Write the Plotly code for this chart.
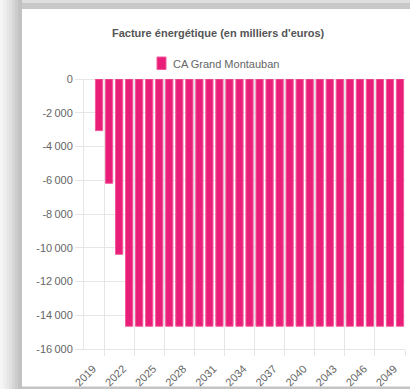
import plotly.graph_objects as go

# ---- data ----
years = [2019, 2020, 2021, 2022, 2023, 2024, 2025, 2026, 2027, 2028, 2029,
         2030, 2031, 2032, 2033, 2034, 2035, 2036, 2037, 2038, 2039, 2040,
         2041, 2042, 2043, 2044, 2045, 2046, 2047, 2048, 2049]
facture = [-3060, -6180, -10390, -14650, -14650, -14650, -14650, -14650,
           -14650, -14650, -14650, -14650, -14650, -14650, -14650, -14650,
           -14650, -14650, -14650, -14650, -14650, -14650, -14650, -14650,
           -14650, -14650, -14650, -14650, -14650, -14650, -14650]
x_tick_years = [2019, 2022, 2025, 2028, 2031, 2034, 2037, 2040, 2043, 2046, 2049]
y_tick_vals = [0, -2000, -4000, -6000, -8000, -10000, -12000, -14000, -16000]
y_tick_text = ["0", "-2\u202f000", "-4\u202f000", "-6\u202f000", "-8\u202f000",
               "-10\u202f000", "-12\u202f000", "-14\u202f000", "-16\u202f000"]
series_name = "CA Grand Montauban"
title_text = "Facture énergétique (en milliers d'euros)"

W, H = 410, 389
L, R, T, B = 84, 5, 79, 40
PW, PH = W - L - R, H - T - B


def px(x):
    return (x - L) / PW


def py(y):
    return (H - B - y) / PH


FONT = "Liberation Sans, Arial, sans-serif"
GRID = "#e6e6e6"
PINK = "#e91e78"

fig = go.Figure()
fig.add_trace(go.Bar(
    x=years, y=facture, name=series_name,
    marker=dict(color=PINK, line=dict(color="#f25a9c", width=1)),
    width=0.72, showlegend=False,
))

shapes = []
# card shadow (left gradient)
left_bands = [(0, 3, "#f5f5f5"), (3, 6, "#efefef"), (6, 9, "#e8e8e8"),
              (9, 12, "#e0e0e0"), (12, 15, "#d6d6d6"), (15, 18, "#cccccc"),
              (18, 22, "#c2c2c2")]
for x0, x1, c in left_bands:
    shapes.append(dict(type="rect", xref="paper", yref="paper",
                       x0=px(x0), x1=px(x1), y0=py(H), y1=py(0),
                       fillcolor=c, line=dict(width=0), layer="below"))
# top band
shapes.append(dict(type="rect", xref="paper", yref="paper",
                   x0=px(22), x1=px(W), y0=py(3), y1=py(0),
                   fillcolor="#dedede", line=dict(width=0), layer="below"))
shapes.append(dict(type="rect", xref="paper", yref="paper",
                   x0=px(22), x1=px(W), y0=py(9), y1=py(3),
                   fillcolor="#c8c8c8", line=dict(width=0), layer="below"))
# bottom line
shapes.append(dict(type="rect", xref="paper", yref="paper",
                   x0=px(22), x1=px(W), y0=py(H), y1=py(386.5),
                   fillcolor="#c4c4c4", line=dict(width=0), layer="below"))
# legend swatch
shapes.append(dict(type="rect", xref="paper", yref="paper",
                   x0=px(157), x1=px(166), y0=py(69.5), y1=py(57),
                   fillcolor=PINK, line=dict(color="#f25a9c", width=1)))

fig.update_layout(
    width=W, height=H,
    margin=dict(l=L, r=R, t=T, b=B, pad=0, autoexpand=False),
    paper_bgcolor="white", plot_bgcolor="white",
    font=dict(family=FONT, size=11, color="#666666"),
    shapes=shapes,
    showlegend=False,
    annotations=[
        dict(text="<b>" + title_text + "</b>", xref="paper", yref="paper",
             x=px(218), y=py(33), xanchor="center", yanchor="middle",
             showarrow=False, font=dict(size=11, color="#555555")),
        dict(text=series_name, xref="paper", yref="paper",
             x=px(171), y=py(63.5), xanchor="left", yanchor="middle",
             showarrow=False, font=dict(size=11, color="#666666")),
    ],
)
fig.update_xaxes(
    range=[2017.5, 2049.5], tickmode="array", tickvals=x_tick_years,
    ticktext=[str(v) for v in x_tick_years], tickangle=-45,
    showgrid=False, ticks="", showline=True, linecolor=GRID,
    tickfont=dict(size=11, color="#666666"),
    ticklabelstandoff=8, ticklabelshift=-6,
    minor=dict(tickmode="array", tickvals=[v + 0.5 for v in x_tick_years],
               showgrid=True, gridcolor=GRID, gridwidth=1,
               ticks="outside", ticklen=6, tickcolor=GRID),
    zeroline=False, fixedrange=True, automargin=False,
)
fig.update_yaxes(
    range=[-16000, 0], tickmode="array", tickvals=y_tick_vals,
    ticktext=y_tick_text, showgrid=True, gridcolor=GRID, gridwidth=1,
    ticks="outside", ticklen=8, tickcolor=GRID,
    showline=True, linecolor=GRID, zeroline=True, zerolinecolor=GRID,
    zerolinewidth=1, tickfont=dict(size=11, color="#666666"), fixedrange=True,
    automargin=False,
)

fig.write_html(
    "out.html",
    config=dict(displayModeBar=False),
    post_script="document.body.style.margin='0';document.body.style.overflow='hidden';",
)
